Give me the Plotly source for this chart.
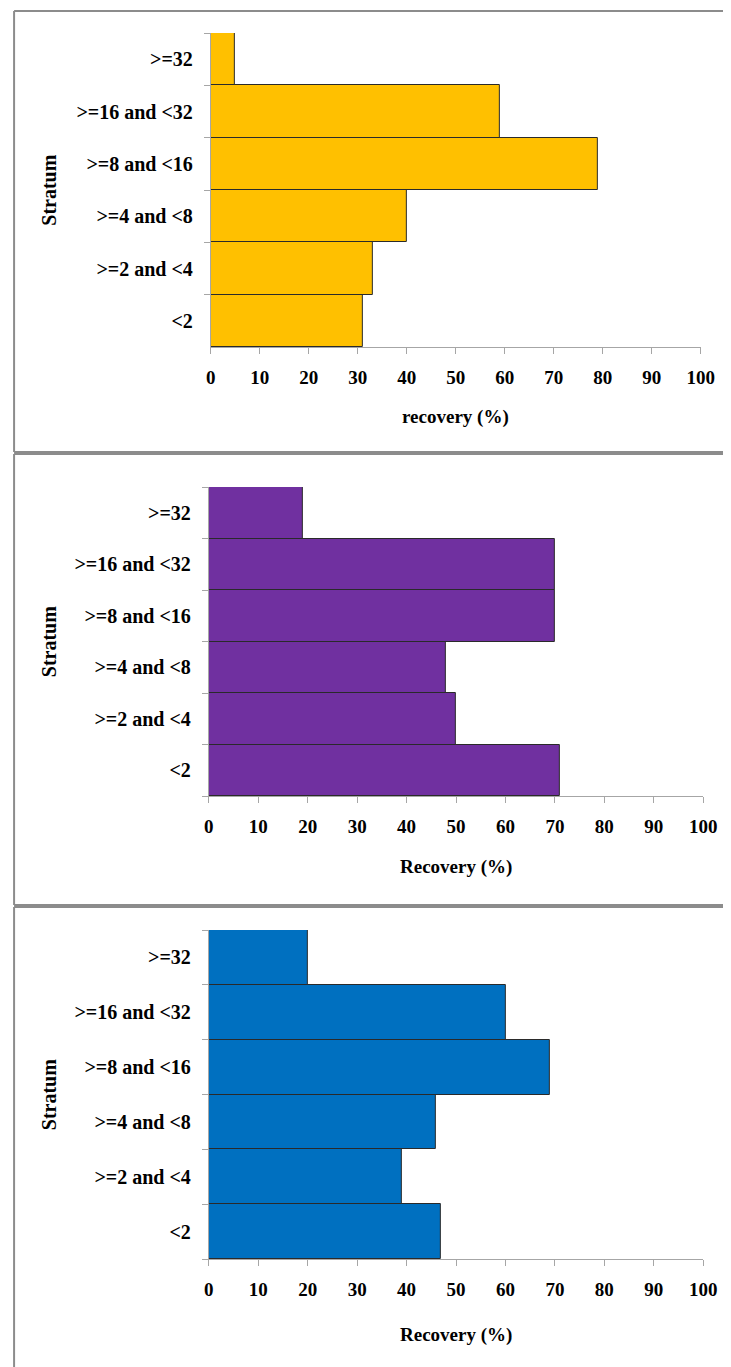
import plotly.graph_objects as go

categories = ["<2", ">=2 and <4", ">=4 and <8", ">=8 and <16", ">=16 and <32", ">=32"]
recovery_panel1 = [31, 33, 40, 79, 59, 5]
recovery_panel2 = [71, 50, 48, 70, 70, 19]
recovery_panel3 = [47, 39, 46, 69, 60, 20]
x_ticks = [0, 10, 20, 30, 40, 50, 60, 70, 80, 90, 100]
x_titles = ["recovery (%)", "Recovery (%)", "Recovery (%)"]
y_title = "Stratum"
colors = ["#FFC000", "#7030A0", "#0070C0"]

# page body has an 8px margin; the captured picture is slightly narrower
# than the page, so horizontal target positions are mapped back to page px.
OFF = 8
SX, BX = 0.9737, 4.5
W, H = 742, 1359
def page_x(t):
    return (t - BX) / SX
def px(t):
    return min(max((page_x(t) - OFF) / W, 0.0), 1.0)
def py(v):
    return min(max(1 - (v - OFF) / H, 0.0), 1.0)

# target layout of each panel (picture pixels); frame = (left, top, bottom)
panels = [
    dict(x0=210, x1=699.5, yt=33, yb=347, frame=(10, 11, 452), xt=417),
    dict(x0=208, x1=702, yt=487, yb=796, frame=(8, 454, 905), xt=867),
    dict(x0=208, x1=702, yt=930, yb=1259, frame=(7, 907, None), xt=1335),
]
series = [recovery_panel1, recovery_panel2, recovery_panel3]

font_family = "Liberation Serif, Times New Roman, serif"
FS = 19
fig = go.Figure()
shapes = []
annotations = []
border = dict(color="#8c8c8c", width=2)
for i, (p, vals, col, xt) in enumerate(zip(panels, series, colors, x_titles)):
    n = "" if i == 0 else str(i + 1)
    fig.add_trace(go.Bar(
        x=vals, y=categories, orientation="h",
        marker=dict(color=col, line=dict(color="#2a2a2a", width=1)),
        xaxis="x" + n, yaxis="y" + n, showlegend=False,
    ))
    fig.update_layout(**{
        "xaxis" + n: dict(
            domain=[px(p["x0"]), px(p["x1"])], anchor="y" + n,
            range=[0, 100], tickvals=x_ticks, showgrid=False, zeroline=False,
            showline=True, linecolor="#a6a6a6", linewidth=1,
            ticks="outside", ticklen=6, tickcolor="#a6a6a6",
            ticklabelstandoff=7,
            tickfont=dict(family=font_family, size=FS, color="black", weight="bold"),
        ),
        "yaxis" + n: dict(
            domain=[py(p["yb"]), py(p["yt"])], anchor="x" + n,
            type="category", categoryorder="array", categoryarray=categories,
            showgrid=False, zeroline=False,
            showline=True, linecolor="#a6a6a6", linewidth=1,
            ticks="outside", ticklen=6, tickcolor="#a6a6a6", tickson="boundaries",
            ticklabelstandoff=13,
            tickfont=dict(family=font_family, size=20, color="black", weight="bold"),
        ),
    })
    fl, ft, fb = p["frame"]
    xl = max(px(fl), 0.0015)
    ytop = py(ft)
    ybot = py(fb) if fb is not None else 0.0
    shapes.append(dict(type="line", xref="paper", yref="paper",
                       x0=xl, x1=xl, y0=ybot, y1=ytop, line=border))
    shapes.append(dict(type="line", xref="paper", yref="paper",
                       x0=xl, x1=1.0, y0=ytop, y1=ytop, line=border))
    if fb is not None:
        shapes.append(dict(type="line", xref="paper", yref="paper",
                           x0=xl, x1=1.0, y0=ybot, y1=ybot, line=border))
    annotations.append(dict(text=xt, xref="paper", yref="paper",
                            x=px((p["x0"] + p["x1"]) / 2), y=py(p["xt"]),
                            xanchor="center", yanchor="middle", showarrow=False,
                            font=dict(family=font_family, size=FS, color="black", weight="bold")))
    annotations.append(dict(text=y_title, xref="paper", yref="paper",
                            x=px(48), y=py((p["yt"] + p["yb"]) / 2),
                            xanchor="center", yanchor="middle", showarrow=False, textangle=-90,
                            font=dict(family=font_family, size=20, color="black", weight="bold")))

fig.update_layout(
    width=W, height=H, margin=dict(l=0, r=0, t=0, b=0),
    paper_bgcolor="white", plot_bgcolor="white", bargap=0,
    shapes=shapes, annotations=annotations,
)
fig.write_html("out.html")
